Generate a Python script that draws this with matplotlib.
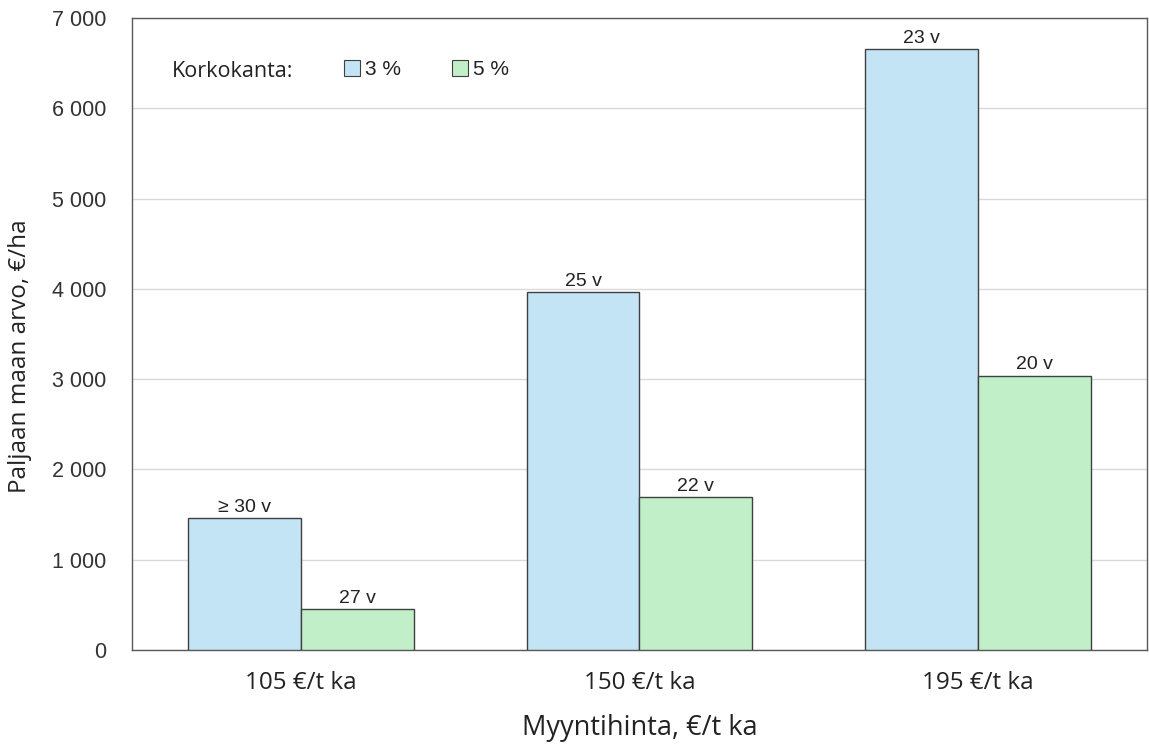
import numpy as np
import matplotlib.pyplot as plt
from matplotlib.patches import Patch

# data
categories = ['105 €/t ka', '150 €/t ka', '195 €/t ka']
value_3 = [1460, 3970, 6660]
value_5 = [455, 1690, 3040]
labels_3 = ['≥ 30 v', '25 v', '23 v']
labels_5 = ['27 v', '22 v', '20 v']
yticks = [0, 1000, 2000, 3000, 4000, 5000, 6000, 7000]

c3 = '#C3E4F5'
c5 = '#C1F0C8'
edge = '#404040'
txt = '#222222'
open_sans = ['Open Sans', 'DejaVu Sans']

plt.rcParams['font.family'] = ['Liberation Sans', 'DejaVu Sans']

fig = plt.figure(figsize=(11.49, 7.46), dpi=100)
ax = fig.add_axes([0.1149, 0.1287, 0.8833, 0.847])

x = np.arange(len(categories))
w = 1 / 3
b3 = ax.bar(x - w / 2, value_3, w, color=c3, edgecolor=edge, linewidth=1, zorder=3)
b5 = ax.bar(x + w / 2, value_5, w, color=c5, edgecolor=edge, linewidth=1, zorder=3)

ax.bar_label(b3, labels=labels_3, padding=1.5, fontsize=14, color=txt)
ax.bar_label(b5, labels=labels_5, padding=1.5, fontsize=14, color=txt)

ax.set_xlim(-0.5, 2.5)
ax.set_ylim(0, 7000)
ax.set_yticks(yticks)
ax.set_yticklabels([f'{v:,}'.replace(',', ' ') for v in yticks], fontsize=15.5, color='#333333')
ax.set_xticks(x)
ax.set_xticklabels(categories, fontsize=17.5, family=open_sans, color=txt)
ax.tick_params(axis='x', length=0, pad=15)
ax.tick_params(axis='y', length=0, pad=18.5)

ax.grid(axis='y', color='#D9D9D9', linewidth=1, zorder=0)
for s in ax.spines.values():
    s.set_color('#595959')
    s.set_linewidth(1)

ax.set_ylabel('Paljaan maan arvo, €/ha', fontsize=17.5, family=open_sans, color=txt)
ax.yaxis.set_label_coords(-0.0985, 0.465)
ax.set_xlabel('Myyntihinta, €/t ka', fontsize=19.5, family=open_sans, color=txt, labelpad=14)

# legend
ax.text(0.039, 0.9066, 'Korkokanta:', transform=ax.transAxes, fontsize=15.5,
        family=open_sans, va='baseline', color=txt)
handles = [Patch(facecolor=c3, edgecolor=edge, linewidth=0.8),
           Patch(facecolor=c5, edgecolor=edge, linewidth=0.8)]
ax.legend(handles, ['3 %', '5 %'], ncol=2, frameon=False, loc='center left',
          bbox_to_anchor=(0.19, 0.9185), fontsize=15, handlelength=0.77,
          handleheight=0.77, handletextpad=0.25, columnspacing=2.45,
          labelcolor=txt)

fig.savefig('out.png', dpi=100)
